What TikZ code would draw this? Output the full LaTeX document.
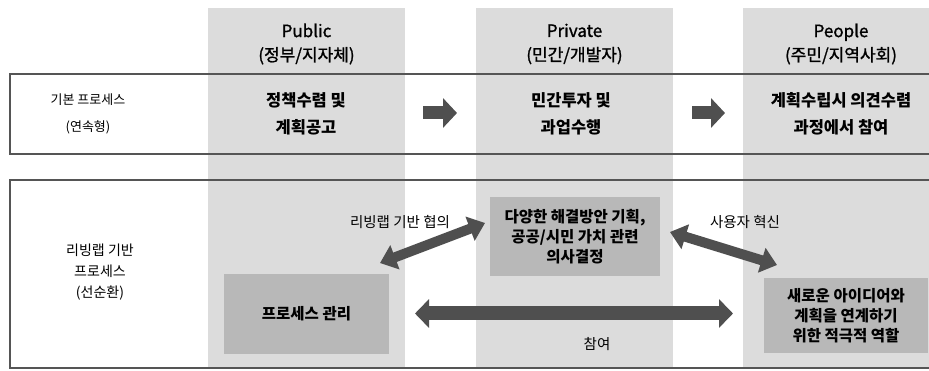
\documentclass[tikz,border=0pt]{standalone}
\usepackage{fontspec}
\setmainfont{Noto Sans CJK KR}
\newfontfamily\hdrfont{Noto Sans CJK KR}[FakeBold=1.2]
\usetikzlibrary{arrows.meta}
\definecolor{colgray}{HTML}{DCDCDC}
\definecolor{boxgray}{HTML}{B8B8B8}
\definecolor{arrgray}{HTML}{4F4F4F}
\definecolor{framegray}{HTML}{555555}
\begin{document}
\begin{tikzpicture}[x=1pt,y=-1pt,
  hdr/.style={align=center, font=\hdrfont\fontsize{17}{24}\selectfont},
  maintxt/.style={align=center, font=\bfseries\fontsize{16.5}{27}\selectfont},
  rowlab/.style={align=center, font=\fontsize{13}{27}\selectfont},
  rowlabb/.style={align=center, font=\fontsize{14}{21}\selectfont},
  smalltxt/.style={font=\fontsize{14.5}{16}\selectfont},
  innerbox/.style={fill=boxgray, draw=none, inner sep=0pt, align=center,
    font=\bfseries\fontsize{15.5}{20}\selectfont},
  fatarrow/.style={draw=arrgray, line width=13pt, -{Triangle[length=14pt,width=29pt]}},
  fatdouble/.style={draw=arrgray, line width=14pt, {Triangle[length=14pt,width=28pt]}-{Triangle[length=14pt,width=28pt]}},
  diagdouble/.style={draw=arrgray, line width=10pt, {Triangle[length=16pt,width=25pt]}-{Triangle[length=16pt,width=25pt]}},
  rowframe/.style={draw=framegray, line width=2pt}
]
\useasboundingbox (0,0) rectangle (929,371);
\clip (0,0) rectangle (929,371);
\fill[white] (0,0) rectangle (929,371);
% columns
\fill[colgray] (208,8) rectangle (405,368);
\fill[colgray] (476,8) rectangle (673,368);
\fill[colgray] (743,8) rectangle (945,368);
% row frames
\draw[rowframe] (10,74) rectangle (950,154);
\draw[rowframe] (10,180) rectangle (950,368);
% headers
\node[hdr] (hpub) at (306.5,44) {Public\\(정부/지자체)};
\node[hdr] (hpri) at (574.5,44) {Private\\(민간/개발자)};
\node[hdr] (hpeo) at (841,44) {People\\(주민/지역사회)};
% row 1
\node[rowlab] (r1lab) at (88,114) {기본 프로세스\\(연속형)};
\node[maintxt] (r1pub) at (306,114) {정책수렴 및\\계획공고};
\node[maintxt] (r1pri) at (571,114) {민간투자 및\\과업수행};
\node[maintxt] (r1peo) at (841,114) {계획수립시 의견수렴\\과정에서 참여};
\coordinate (a1s) at (423,113);
\coordinate (a1e) at (457,113);
\coordinate (a2s) at (692,113);
\coordinate (a2e) at (725,113);
\draw[fatarrow] (a1s) -- (a1e);
\draw[fatarrow] (a2s) -- (a2e);
% row 2
\node[rowlabb] (r2lab) at (100,272) {리빙랩 기반\\프로세스\\(선순환)};
\node[innerbox, minimum width=165pt, minimum height=80pt] (pmbox) at (306.5,314) {프로세스 관리};
\node[innerbox, minimum width=170pt, minimum height=79pt] (dhbox) at (575,236.5) {다양한 해결방안 기획,\\공공/시민 가치 관련\\의사결정};
\node[innerbox, minimum width=164pt, minimum height=75pt] (nwbox) at (846,315.5) {새로운 아이디어와\\계획을 연계하기\\위한 적극적 역할};
\node[smalltxt] (l1) at (400,222) {리빙랩 기반 협의};
\node[smalltxt] (l2) at (745,222) {사용자 혁신};
\node[smalltxt] (l3) at (597,344) {참여};
\coordinate (d1a) at (380,263);
\coordinate (d1b) at (485,223);
\coordinate (d2a) at (670,232);
\coordinate (d2b) at (777,265);
\coordinate (h1a) at (415,313.5);
\coordinate (h1b) at (733,313.5);
\draw[diagdouble] (d1a) -- (d1b);
\draw[diagdouble] (d2a) -- (d2b);
\draw[fatdouble] (h1a) -- (h1b);
\end{tikzpicture}
\end{document}
